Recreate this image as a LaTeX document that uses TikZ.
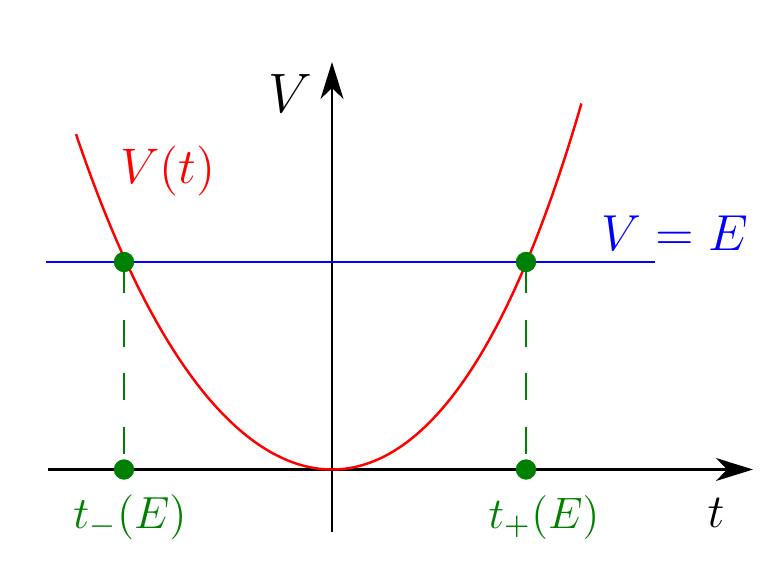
\RequirePackage{fix-cm}
\documentclass[tikz,border=0pt]{standalone}
\usetikzlibrary{arrows.meta}
\definecolor{dgreen}{RGB}{0,128,0}
\begin{document}
\begin{tikzpicture}[x=0.01cm,y=-0.01cm,
  axis/.style={line width=0.75pt,-{Stealth[length=10.5pt,width=6.5pt,inset=3.1pt]}},
  dot/.style={circle,fill=dgreen,inner sep=0pt,minimum size=5.7pt},
  drop/.style={dgreen,line width=0.65pt,dash pattern=on 7.6pt off 7.6pt,dash phase=13.9pt},
  lab/.style={anchor=base,inner sep=0pt}]
\useasboundingbox (0,0) rectangle (776,564);
% axes
\coordinate (xs) at (48,469.5);
\coordinate (xe) at (753,469.5);
\coordinate (ys) at (332,532);
\coordinate (ye) at (332,62);
\draw[axis] (xs) -- (xe);
\draw[axis] (ys) -- (ye);
% energy level
\coordinate (es) at (46,262);
\coordinate (ee) at (655,262);
\draw[blue,line width=0.7pt] (es) -- (ee);
% potential
\draw[red,line width=0.7pt] plot[domain=-2.56:2.495,samples=140,variable=\u]
  ({332+100*\u},{469.5-(46.75*\u*\u+1.6*\u*\u*\u+1.3*\u*\u*\u*\u)});
% turning points
\node[dot] (lt) at (124,262) {};
\node[dot] (rt) at (526,262) {};
\node[dot] (lb) at (124,469.5) {};
\node[dot] (rb) at (526,469.5) {};
\draw[drop] (lt.center) -- (lb.center);
\draw[drop] (rt.center) -- (rb.center);
\node[dot] at (lt.center) {};
\node[dot] at (rt.center) {};
\node[dot] at (lb.center) {};
\node[dot] at (rb.center) {};
% labels
\node[lab,font=\fontsize{15.8}{18}\selectfont] (lV) at (290,113) {$V$};
\node[lab,red,font=\fontsize{14.2}{17}\selectfont] (lVt) at (168,183) {$V(t)$};
\node[lab,blue,font=\fontsize{14.4}{17}\selectfont] (lVE) at (675,251) {$V=E$};
\node[lab,dgreen,font=\fontsize{12.8}{15}\selectfont] (ltm) at (130,528) {$t_-(E)$};
\node[lab,dgreen,font=\fontsize{12.5}{15}\selectfont] (ltp) at (544,528) {$t_+(E)$};
\node[lab,font=\fontsize{13.5}{15}\selectfont] (tl) at (716,527) {$t$};
\end{tikzpicture}
\end{document}
